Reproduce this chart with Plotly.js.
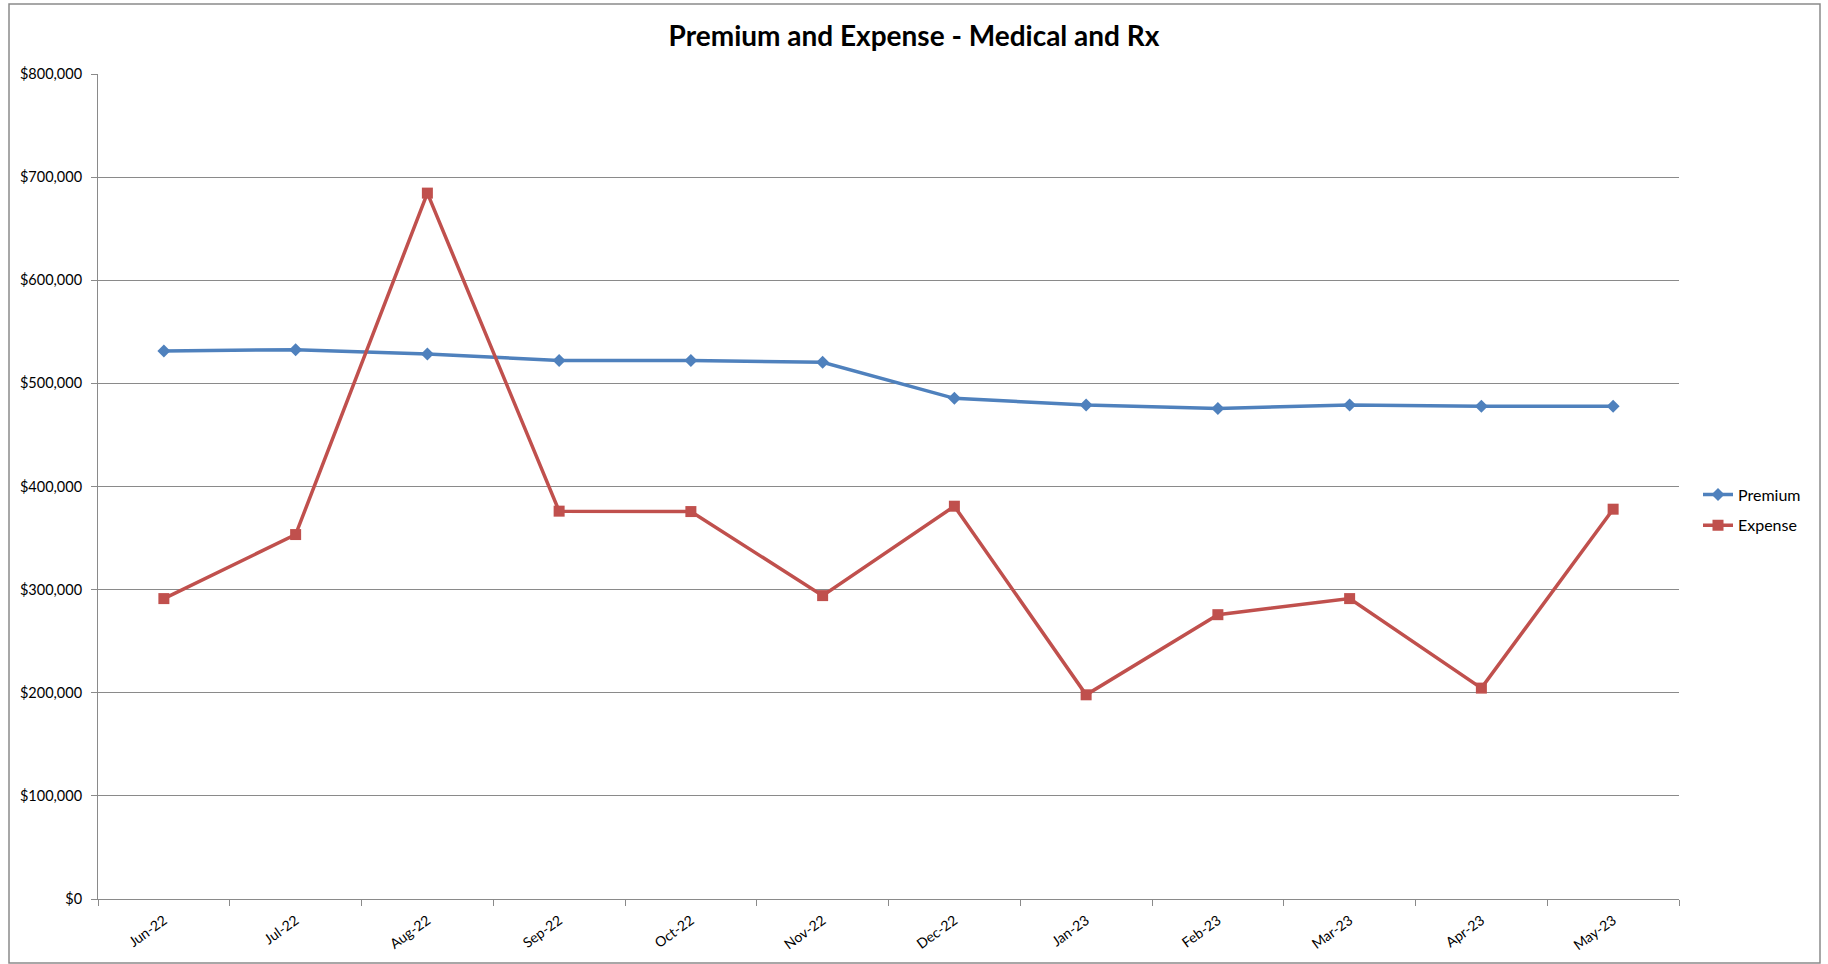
<!DOCTYPE html>
<html>
<head>
<meta charset="utf-8">
<script src="https://cdn.plot.ly/plotly-3.0.1.min.js"></script>
<style>
  html, body { margin: 0; padding: 0; background: #fff; }
  #chart { width: 1828px; height: 964px; }
</style>
</head>
<body>
<div id="chart"></div>
<script>
const months = ["Jun-22","Jul-22","Aug-22","Sep-22","Oct-22","Nov-22","Dec-22","Jan-23","Feb-23","Mar-23","Apr-23","May-23"];
const premium = [531400, 532700, 528500, 522300, 522300, 520400, 485500, 479000, 475700, 479000, 477700, 477700];
const expense = [291300, 353400, 684500, 376100, 375700, 294200, 380900, 198000, 275700, 291300, 204500, 378000];

const FONT = "Lato, 'Open Sans', 'Liberation Sans', sans-serif";
const GRID = "#8a8a8a";
const PL = 98, PR = 1679, PT = 74, PB = 899;
const PW = PR - PL, PH = PB - PT;

const traces = [
  {
    x: months, y: premium, name: "Premium", type: "scatter", mode: "lines+markers",
    legendgroup: "premium",
    line: { color: "#4F81BD", width: 3.5 },
    marker: { symbol: "diamond", size: 10, color: "#4F81BD" }
  },
  {
    x: months, y: expense, name: "Expense", type: "scatter", mode: "lines+markers",
    legendgroup: "expense",
    line: { color: "#C0504D", width: 3.5 },
    marker: { symbol: "square", size: 11, color: "#C0504D" }
  }
];

const layout = {
  width: 1828, height: 964,
  margin: { l: PL, r: 1828 - PR, t: PT, b: 964 - PB },
  paper_bgcolor: "#fff", plot_bgcolor: "#fff",
  font: { family: FONT, color: "#000", size: 14 },
  title: {
    text: "<b>Premium and Expense - Medical and Rx</b>",
    font: { family: FONT, size: 28, color: "#000" },
    x: 0.5, xref: "container", xanchor: "center",
    y: 1 - 36 / 964, yref: "container", yanchor: "middle"
  },
  xaxis: {
    type: "category",
    tickson: "boundaries",
    ticks: "outside", ticklen: 6, tickcolor: GRID, tickwidth: 1,
    showline: true, linecolor: GRID, linewidth: 1,
    showgrid: false, zeroline: false,
    tickangle: -36,
    ticklabelstandoff: 7,
    tickfont: { family: FONT, size: 14, color: "#000" },
    range: [-0.5, 11.5]
  },
  yaxis: {
    range: [0, 800000], dtick: 100000, tick0: 0,
    tickprefix: "$", tickformat: ",d",
    ticks: "outside", ticklen: 6, tickcolor: GRID, tickwidth: 1,
    showline: true, linecolor: GRID, linewidth: 1,
    showgrid: true, gridcolor: GRID, gridwidth: 1,
    zeroline: false,
    tickfont: { family: FONT, size: 14.5, color: "#000" },
    ticklabelstandoff: 6
  },
  showlegend: true,
  legend: {
    x: (1698 - PL) / PW, xanchor: "left", y: (PB - 510) / PH, yanchor: "middle",
    font: { family: FONT, size: 16, color: "#000" },
    bgcolor: "rgba(0,0,0,0)", borderwidth: 0,
    tracegroupgap: 7
  },
  shapes: [
    {
      type: "rect", xref: "paper", yref: "paper",
      x0: (9 - PL) / PW, x1: (1820 - PL) / PW,
      y0: (PB - 963) / PH, y1: (PB - 4) / PH,
      line: { color: "#8a8a8a", width: 1.5 }, fillcolor: "rgba(0,0,0,0)",
      layer: "below"
    }
  ]
};

Plotly.newPlot("chart", traces, layout, { staticPlot: true, displayModeBar: false });
</script>
</body>
</html>
